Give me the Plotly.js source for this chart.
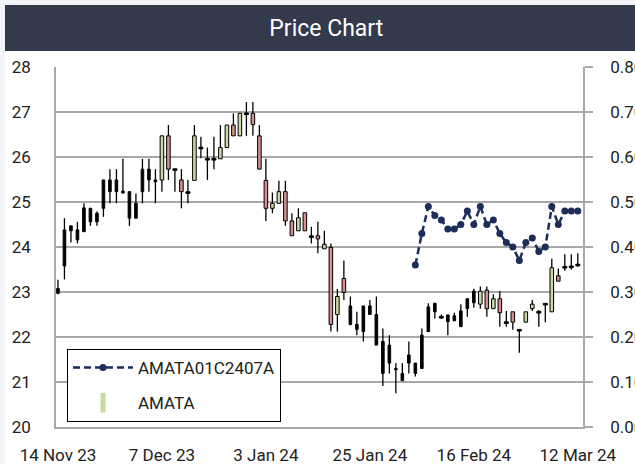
<!DOCTYPE html>
<html><head><meta charset="utf-8">
<script src="https://cdn.plot.ly/plotly-3.0.1.min.js"></script>
<style>
html,body{margin:0;padding:0;background:#f4f5f9;width:635px;height:464px;overflow:hidden;}
#chart{position:absolute;left:5px;top:5px;width:630px;height:459px;}
</style></head><body><div id="chart"></div>
<script>
const dates = [
 '2023-11-14','2023-11-15','2023-11-16','2023-11-17','2023-11-20','2023-11-21','2023-11-22','2023-11-23','2023-11-24','2023-11-27',
 '2023-11-28','2023-11-29','2023-11-30','2023-12-01','2023-12-04','2023-12-06','2023-12-07','2023-12-08','2023-12-12','2023-12-13',
 '2023-12-14','2023-12-15','2023-12-18','2023-12-19','2023-12-20','2023-12-21','2023-12-22','2023-12-25','2023-12-26','2023-12-27',
 '2023-12-28','2024-01-02','2024-01-03','2024-01-04','2024-01-05','2024-01-08','2024-01-09','2024-01-10','2024-01-11','2024-01-12',
 '2024-01-15','2024-01-16','2024-01-17','2024-01-18','2024-01-19','2024-01-22','2024-01-23','2024-01-24','2024-01-25','2024-01-26',
 '2024-01-29','2024-01-30','2024-01-31','2024-02-01','2024-02-02','2024-02-05','2024-02-06','2024-02-07','2024-02-08','2024-02-09',
 '2024-02-12','2024-02-13','2024-02-14','2024-02-15','2024-02-16','2024-02-19','2024-02-20','2024-02-21','2024-02-22','2024-02-23',
 '2024-02-27','2024-02-28','2024-02-29','2024-03-01','2024-03-04','2024-03-05','2024-03-06','2024-03-07','2024-03-08','2024-03-11',
 '2024-03-12'];

const open = [
 22.97,23.58,24.36,24.16,24.34,24.56,24.56,24.86,25.23,25.23,25.20,24.64,24.64,25.23,25.49,25.45,
 25.49,26.47,25.72,25.49,25.21,25.48,26.20,25.95,25.95,25.96,26.21,26.71,26.47,26.96,26.97,26.47,25.48,24.86,24.97,25.23,24.58,24.36,24.76,24.23,24.25,23.96,23.99,22.50,23.30,
 22.28,22.17,22.12,22.50,21.82,21.19,21.42,21.27,21.03,21.42,21.19,21.30,22.12,22.56,22.44,22.34,22.36,22.23,22.63,22.76,
 22.73,23.04,22.63,22.85,22.32,22.56,22.15,22.33,22.63,22.55,22.73,22.56,23.36,23.55,23.56,23.60];
const high = [
 23.27,24.64,24.48,24.56,24.97,24.87,24.79,25.49,25.73,25.73,25.96,25.23,25.19,25.96,25.96,25.73,
 26.47,26.71,25.73,25.73,25.49,26.71,26.45,26.21,26.45,26.71,26.71,26.97,26.97,27.22,27.22,26.71,25.96,25.21,25.47,25.47,24.75,24.86,24.76,24.45,24.56,24.36,24.08,23.07,23.70,
 22.90,22.56,22.69,22.82,22.90,22.19,22.04,21.42,21.42,21.90,21.42,22.19,22.75,22.75,22.50,22.49,22.54,22.73,22.85,23.07,
 23.12,23.12,22.95,23.02,22.58,22.56,22.16,22.56,22.82,22.60,22.73,23.74,23.52,23.84,23.84,23.86];
const low = [
 22.95,23.28,24.10,24.08,24.34,24.47,24.47,24.67,24.97,24.97,25.19,24.47,24.64,24.97,25.23,24.97,
 25.23,25.49,25.23,24.86,24.97,25.48,25.97,25.49,25.73,25.96,26.21,26.47,26.47,26.47,26.47,25.73,24.58,24.75,24.97,24.47,24.25,24.36,24.36,24.08,23.86,23.96,22.12,22.12,22.82,
 22.26,22.04,21.90,22.50,21.82,20.91,21.19,20.75,21.03,21.19,21.12,21.30,22.12,22.41,22.40,22.04,22.36,22.23,22.45,22.65,
 22.63,22.45,22.63,22.23,22.23,22.16,21.65,22.33,22.58,22.23,22.33,22.56,23.24,23.47,23.50,23.56];
const close = [
 23.08,24.38,24.47,24.38,24.87,24.86,24.75,25.49,25.49,25.49,25.24,25.23,24.97,25.73,25.73,25.49,
 26.47,25.73,25.72,25.23,25.21,26.47,26.20,25.95,25.95,26.21,26.71,26.47,26.97,26.96,26.72,25.73,24.86,24.97,25.23,24.58,24.25,24.65,24.36,24.23,24.18,24.06,22.28,22.90,22.99,
 22.69,22.28,22.69,22.69,22.50,21.90,21.82,21.30,21.19,21.60,21.42,22.04,22.67,22.75,22.44,22.49,22.47,22.58,22.85,23.02,
 23.02,22.63,22.85,22.54,22.32,22.33,22.15,22.56,22.73,22.55,22.73,23.54,23.24,23.55,23.56,23.60];
// 1 = candle drawn as a plain solid bar (no up/down colouring)
const plainFlag = [
 1,1,1,1,1,1,1,1,1,1,1,1,1,1,1,1,
 0,0,0,0,0,0,0,0,0,0,0,0,0,0,0,0,0,0,0,0,0,0,0,0,0,0,0,0,0,
 1,1,1,1,1,1,1,1,1,1,1,1,1,1,1,1,1,1,1,1,
 0,0,0,0,0,0,0,0,0,0,0,0,0,0,0,0];

const warrantName = 'AMATA01C2407A';
const stockName = 'AMATA';
const warrantFirstDate = '2024-02-05';
const warrant = [0.36,0.43,0.49,0.47,0.46,0.44,0.44,0.45,0.48,0.45,0.49,0.45,0.46,0.43,0.41,0.40,0.37,0.41,0.42,0.39,0.40,0.49,0.45,0.48,0.48,0.48];

const tickDates = ['2023-11-14','2023-12-07','2024-01-03','2024-01-25','2024-02-16','2024-03-12'];
const tickLabels = ['14 Nov 23','7 Dec 23','3 Jan 24','25 Jan 24','16 Feb 24','12 Mar 24'];

const UP = '#c8d9a1', DOWN = '#d68e8e', NAVY = '#1c2d5a', GRID = '#a8a8a8';

const base = [], len = [], fill = [], wid = [];
const wx = [], wy = [];
for (let i = 0; i < dates.length; i++) {
  const lo = Math.min(open[i], close[i]), hi = Math.max(open[i], close[i]);
  const doji = hi - lo < 0.02;
  if (doji) {
    const m = (lo + hi) / 2;
    base.push(m - 0.018); len.push(0.036); fill.push('#000'); wid.push(0.62);
  } else if (plainFlag[i]) {
    base.push(lo); len.push(hi - lo); fill.push('#000'); wid.push(0.4);
  } else {
    base.push(lo); len.push(hi - lo); fill.push(close[i] > open[i] ? UP : DOWN); wid.push(0.55);
  }
  if (low[i] < lo) { wx.push(dates[i], dates[i], null); wy.push(low[i], lo, null); }
  if (high[i] > hi) { wx.push(dates[i], dates[i], null); wy.push(hi, high[i], null); }
}
const wStart = dates.indexOf(warrantFirstDate);
const warrantDates = dates.slice(wStart, wStart + warrant.length);

const data = [
  {type:'bar', x:dates, y:len, base:base, width:wid, marker:{color:fill, line:{color:'#000', width:1}}, showlegend:false,
   customdata:dates.map((d,i)=>[open[i],high[i],low[i],close[i]]),
   hovertemplate:'%{x}<br>O %{customdata[0]}<br>H %{customdata[1]}<br>L %{customdata[2]}<br>C %{customdata[3]}<extra></extra>'},
  {type:'scatter', x:wx, y:wy, mode:'lines', line:{color:'#000', width:1.3}, showlegend:false, hoverinfo:'skip', connectgaps:false},
  {type:'scatter', x:warrantDates, y:warrant, yaxis:'y2', mode:'lines+markers', name:warrantName, legendgroup:'w',
   line:{color:NAVY, width:2.5, dash:'7px,4px'}, marker:{color:NAVY, size:7}},
  {type:'scatter', x:[dates[0]], y:[null], mode:'markers', name:stockName, legendgroup:'a',
   marker:{symbol:'line-ns', size:14, color:UP, line:{color:UP, width:5}}}
];

const W = 630, H = 459, L = 51, R = 52, T = 62, B = 37;
const pw = W - L - R, ph = H - T - B;
const layout = {
  width:W, height:H,
  margin:{l:L, r:R, t:T, b:B, pad:0},
  paper_bgcolor:'#ffffff', plot_bgcolor:'#ffffff',
  barmode:'overlay',
  font:{family:'Roboto, sans-serif', size:17, color:'#222'},
  title:{text:'Price Chart', font:{family:'Roboto, sans-serif', size:23, weight:400, color:'#ffffff'},
         x:0.51, xref:'container', xanchor:'center', y:1 - 23/H, yref:'container', yanchor:'middle'},
  shapes:[{type:'rect', xref:'paper', yref:'paper', x0:-L/pw, x1:1 + R/pw, y0:1 + (T - 46)/ph, y1:1 + T/ph,
           fillcolor:'#323a4b', line:{width:0}, layer:'below'}],
  xaxis:{type:'category', categoryorder:'array', categoryarray:dates, range:[-0.3, 80.8], tickmode:'array',
         tickvals:tickDates, ticktext:tickLabels,
         showgrid:false, showline:true, linecolor:GRID, linewidth:1.5, ticks:'', ticklabelstandoff:12, zeroline:false,
         tickfont:{size:17, color:'#222'}},
  yaxis:{range:[20, 28], tick0:20, dtick:1, showgrid:true, gridcolor:GRID, gridwidth:1.5, showline:true,
         linecolor:GRID, linewidth:1.5, ticks:'', ticklabelstandoff:20, zeroline:false, tickfont:{size:17, color:'#222'}},
  yaxis2:{overlaying:'y', side:'right', range:[0, 0.8], tick0:0, dtick:0.1, tickformat:'.2f', showgrid:false,
          showline:true, linecolor:GRID, linewidth:1.5, ticks:'outside', ticklen:8, tickcolor:GRID, tickwidth:1.5,
          ticklabelstandoff:14, zeroline:false, tickfont:{size:17, color:'#222'}},
  legend:{x:11/pw, y:(360 - 282)/ph, xanchor:'left', yanchor:'top', bgcolor:'#ffffff', bordercolor:'#000', borderwidth:1,
          traceorder:'grouped', tracegroupgap:10, font:{size:17, color:'#222'}, itemwidth:60,
          entrywidth:245, entrywidthmode:'pixels'},
  hovermode:'closest'
};
Plotly.newPlot('chart', data, layout, {displayModeBar:false});
</script></body></html>
